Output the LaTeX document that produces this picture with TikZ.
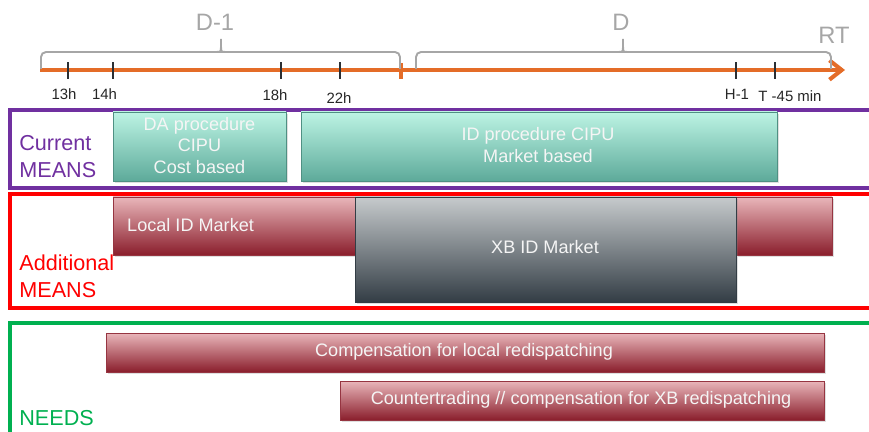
\documentclass[tikz,border=0pt]{standalone}
\usepackage{fontspec}
\setmainfont{Liberation Sans}
\usetikzlibrary{calc, arrows.meta, shadows}
\definecolor{timeorange}{HTML}{E46C28}
\definecolor{bracegray}{HTML}{A6A6A6}
\definecolor{tickgray}{HTML}{2B2F33}
\definecolor{meanspurple}{HTML}{7030A0}
\definecolor{needsgreen}{HTML}{00B050}
\definecolor{tealtop}{HTML}{BDF4E4}
\definecolor{tealbot}{HTML}{5DAA9A}
\definecolor{pinktop}{HTML}{E9B6BA}
\definecolor{pinkbot}{HTML}{8A1E2C}
\definecolor{xbtop}{HTML}{C6CACC}
\definecolor{xbbot}{HTML}{333D45}
% square brace over a day: left x, tip x, right x
\newcommand{\daybrace}[3]{%
    \draw[daybrace, rounded corners=0.1cm] (#1,69) -- (#1,52) -- (#3,52) -- (#3,69);
    \draw[daybrace] ($(#2,52)+(-5,0)$) .. controls (#2,52) .. (#2,46) -- (#2,39)
        -- (#2,46) .. controls (#2,52) .. ($(#2,52)+(5,0)$);
}

\begin{document}
\begin{tikzpicture}[x=0.02cm, y=-0.02cm,
    tick/.style={draw=tickgray, line width=1.1pt},
    ticklbl/.style={text=black!85, font=\fontsize{8.5}{10}\selectfont},
    daybrace/.style={draw=bracegray, line width=1.1pt},
    daylbl/.style={text=bracegray, font=\fontsize{13.5}{15}\selectfont},
    groupbox/.style={line width=2pt},
    grouplbl/.style={anchor=west, align=left, inner sep=0pt, font=\fontsize{12.3}{15.3}\selectfont},
    barlbl/.style={text=white!96!black, align=center, font=\fontsize{10.3}{12.2}\selectfont},
    bar/.style={line width=0.3pt, drop shadow={opacity=0.25, shadow xshift=1pt, shadow yshift=-1pt}},
    tealbar/.style={bar, top color=tealtop, bottom color=tealbot, draw=tealbot!85!black},
    redbar/.style={bar, top color=pinktop, bottom color=pinkbot, draw=pinkbot!90},
    xbbar/.style={bar, top color=xbtop, bottom color=xbbot, draw=xbbot}]
    \useasboundingbox (0,0) rectangle (869,432);
    \clip (0,0) rectangle (869,432);

    % time axis
    \coordinate (start) at (40,70);
    \coordinate (rt) at (845,70);
    \draw[timeorange, line width=2.3pt, -{Straight Barb[length=7pt, width=11pt]}] (start) -- (rt);
    \draw[timeorange, line width=2.8pt] (401,63) -- (401,79);
    \foreach \name/\x in {t13/68, t14/113, t18/281, t22/340, h1/736, t45/775}{
        \coordinate (\name) at (\x,70);
        \draw[tick] ($(\name)+(0,-7.5)$) -- ($(\name)+(0,9.5)$);
    }
    \node[ticklbl] (l13) at (64,94) {13h};
    \node[ticklbl] (l14) at (104.5,94) {14h};
    \node[ticklbl] (l18) at (275,95.5) {18h};
    \node[ticklbl] (l22) at (339,98.5) {22h};
    \node[ticklbl] (lh1) at (737,94) {H-1};
    \node[ticklbl] (l45) at (790,96) {T -45 min};

    % days
    \daybrace{41}{221}{400}
    \daybrace{416}{623}{831}
    \node[daylbl] (dm1) at (215,22) {D-1};
    \node[daylbl] (d) at (621,22) {D};
    \node[daylbl] (rtl) at (834,35) {RT};

    % current means
    \draw[groupbox, meanspurple] (10,110) rectangle (885,188);
    \path[tealbar] (113,112) rectangle (286,181);
    \node[barlbl] (da) at (199.5,145.5) {DA procedure\\CIPU\\Cost based};
    \path[tealbar] (301,112) rectangle (777,181);
    \node[barlbl] (id) at (538,145) {ID procedure CIPU\\Market based};
    \node[grouplbl, text=meanspurple] (cur) at (19,157) {Current\\MEANS};

    % additional means
    \draw[groupbox, red] (10,194) rectangle (885,308);
    \path[redbar] (113,197) rectangle (355,255);
    \node[barlbl, anchor=west] (local) at (121,225) {Local ID Market};
    \path[redbar] (736,197) rectangle (832,255);
    \path[xbbar] (355,197) rectangle (736,302);
    \node[barlbl] (xb) at (545,247) {XB ID Market};
    \node[grouplbl, text=red] (add) at (19,276) {Additional\\MEANS};

    % needs
    \draw[groupbox, needsgreen] (10,323) rectangle (885,460);
    \path[redbar] (106,333) rectangle (824,372);
    \node[barlbl] (comp) at (464,352) {Compensation for local redispatching};
    \path[redbar] (340,381) rectangle (824,420);
    \node[barlbl] (ct) at (581,400) {Countertrading // compensation for XB redispatching};
    \node[grouplbl, text=needsgreen] (needs) at (19,418) {NEEDS};
\end{tikzpicture}
\end{document}
